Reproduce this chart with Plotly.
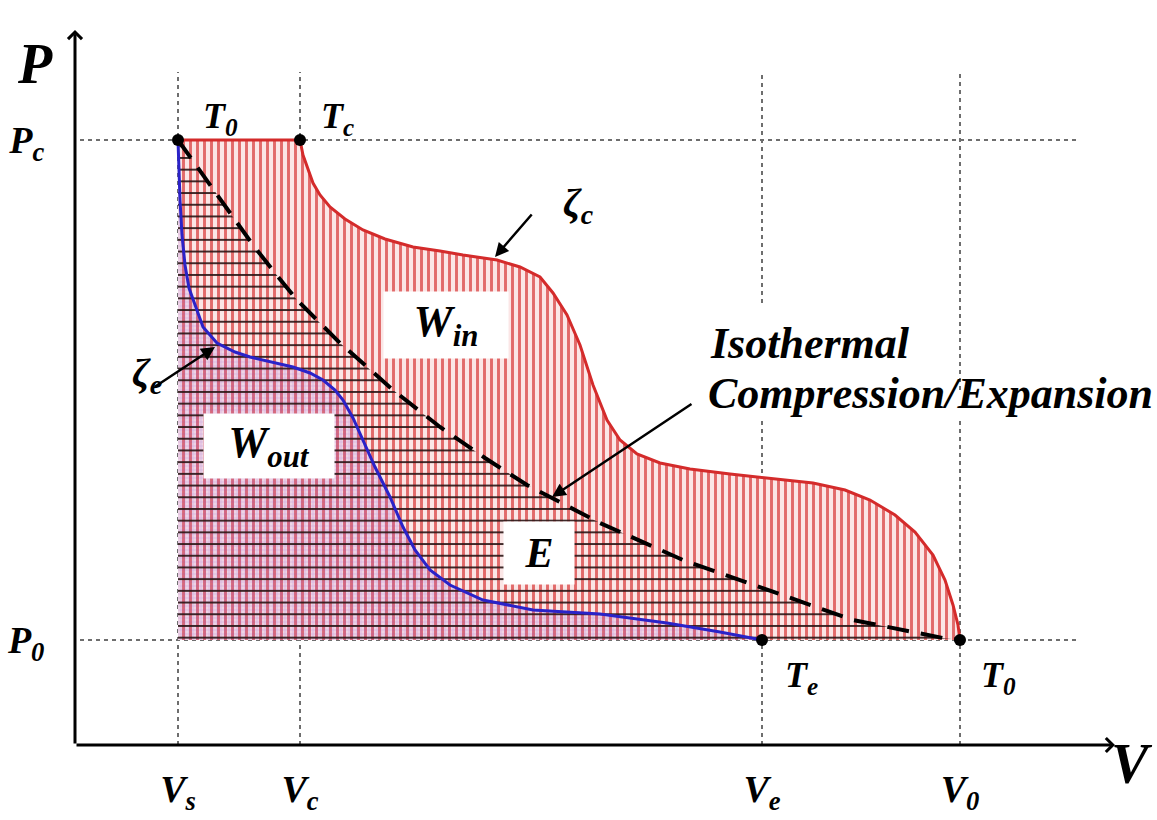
import plotly.graph_objects as go

# ---- key state values (arbitrary units) ----
V_s, V_c, V_e, V_0 = 1.03, 2.25, 6.87, 8.85
P_c, P_0 = 6.05, 1.05

# compression curve zeta_c (red): T0 -> Tc -> T0
zeta_c_V = [1.03, 2.25, 2.28, 2.33, 2.38, 2.45, 2.55, 2.70, 2.88, 3.10, 3.38, 3.65, 3.88,
            4.22, 4.45, 4.65, 4.78, 4.92, 5.05, 5.18, 5.32, 5.45, 5.62, 5.85, 6.15, 6.55,
            6.95, 7.38, 7.70, 7.95, 8.20, 8.40, 8.58, 8.70, 8.78, 8.83, 8.85]
zeta_c_P = [6.05, 6.05, 5.90, 5.75, 5.62, 5.50, 5.38, 5.26, 5.15, 5.06, 4.98, 4.94, 4.90,
            4.85, 4.78, 4.68, 4.52, 4.30, 4.00, 3.60, 3.25, 3.05, 2.91, 2.82, 2.76, 2.71,
            2.67, 2.62, 2.55, 2.45, 2.30, 2.13, 1.90, 1.65, 1.40, 1.20, 1.05]

# expansion curve zeta_e (blue): T0 -> Te
zeta_e_V = [1.03, 1.04, 1.05, 1.07, 1.10, 1.14, 1.20, 1.28, 1.42, 1.60, 1.75, 2.00, 2.18,
            2.35, 2.48, 2.60, 2.68, 2.78, 2.88, 3.00, 3.15, 3.28, 3.40, 3.55, 3.75, 4.08,
            4.58, 5.25, 5.92, 6.45, 6.87]
zeta_e_P = [6.05, 5.75, 5.45, 5.10, 4.80, 4.57, 4.40, 4.18, 4.02, 3.93, 3.88, 3.82, 3.78,
            3.72, 3.65, 3.55, 3.45, 3.27, 3.05, 2.78, 2.48, 2.18, 1.95, 1.75, 1.60, 1.45,
            1.35, 1.31, 1.22, 1.13, 1.05]

# isothermal compression / expansion (dashed)
iso_V = [1.03, 1.32, 1.55, 1.78, 2.00, 2.22, 2.65, 3.18, 3.65, 4.10, 4.52, 5.25, 6.08,
         6.85, 7.78, 8.68, 8.85]
iso_P = [6.05, 5.65, 5.32, 5.00, 4.72, 4.45, 4.02, 3.55, 3.18, 2.87, 2.60, 2.22, 1.85,
         1.58, 1.25, 1.07, 1.05]

# state points
state_V = [V_s, V_c, V_e, V_0]
state_P = [P_c, P_c, P_0, P_0]

x_tick_vals = [V_s, V_c, V_e, V_0]
x_tick_text = ["V<sub>s</sub>", "V<sub>c</sub>", "V<sub>e</sub>", "V<sub>0</sub>"]
y_tick_vals = [P_c, P_0]
y_tick_text = ["P<sub>c</sub>", "P<sub>0</sub>"]

FONT = "Liberation Serif"


def bi(s):
    return "<b><i>" + s + "</i></b>"


fig = go.Figure()

# area under compression curve: vertical red hatching
fig.add_trace(go.Scatter(
    x=zeta_c_V + [V_s], y=zeta_c_P + [P_0], fill="toself", mode="none",
    fillpattern=dict(shape="|", size=7, solidity=0.42, fgcolor="#e26a6a",
                     bgcolor="#fbe6e6", fillmode="replace"),
    hoverinfo="skip", showlegend=False))

# area under expansion curve: light purple tint
fig.add_trace(go.Scatter(
    x=zeta_e_V + [V_s], y=zeta_e_P + [P_0], fill="toself", mode="none",
    fillpattern=dict(shape="+", size=4, solidity=0.25, fgcolor="rgba(130,70,205,0.30)",
                     bgcolor="rgba(160,100,220,0.15)", fillmode="replace"),
    hoverinfo="skip", showlegend=False))

# area under isothermal: horizontal black hatching
fig.add_trace(go.Scatter(
    x=iso_V + [V_s], y=iso_P + [P_0], fill="toself", mode="none",
    fillpattern=dict(shape="-", size=11.7, solidity=0.15, fgcolor="#2a1515",
                     bgcolor="rgba(0,0,0,0)", fillmode="replace"),
    hoverinfo="skip", showlegend=False))

# curves
fig.add_trace(go.Scatter(x=zeta_c_V, y=zeta_c_P, mode="lines",
                         line=dict(color="#d42b2b", width=3),
                         hoverinfo="skip", showlegend=False))
fig.add_trace(go.Scatter(x=zeta_e_V, y=zeta_e_P, mode="lines",
                         line=dict(color="#2a22c8", width=3),
                         hoverinfo="skip", showlegend=False))
fig.add_trace(go.Scatter(x=iso_V, y=iso_P, mode="lines",
                         line=dict(color="black", width=4, dash="22px,12px"),
                         hoverinfo="skip", showlegend=False))
fig.add_trace(go.Scatter(x=state_V, y=state_P, mode="markers",
                         marker=dict(size=12, color="black"),
                         hoverinfo="skip", showlegend=False))

# dotted guide lines
guide = dict(color="#6e6e6e", width=2, dash="4px,4px")
top = 6.73
shapes = [
    dict(type="line", x0=0.05, x1=10.05, y0=P_c, y1=P_c),
    dict(type="line", x0=0.05, x1=10.05, y0=P_0, y1=P_0),
    dict(type="line", x0=V_s, x1=V_s, y0=0, y1=top),
    dict(type="line", x0=V_c, x1=V_c, y0=0, y1=top),
    dict(type="line", x0=V_e, x1=V_e, y0=4.42, y1=top),
    dict(type="line", x0=V_e, x1=V_e, y0=0, y1=3.28),
    dict(type="line", x0=V_0, x1=V_0, y0=3.55, y1=top),
    dict(type="line", x0=V_0, x1=V_0, y0=0, y1=3.28),
]
for s in shapes:
    s.update(xref="x", yref="y", line=guide, layer="below")

annotations = []

# axes with arrows
for (tx, ty) in [(0, 7.15), (10.40, 0)]:
    annotations.append(dict(x=tx, y=ty, ax=0, ay=0, xref="x", yref="y", axref="x", ayref="y",
                            text="", showarrow=True, arrowhead=4, arrowsize=0.9,
                            arrowwidth=3, arrowcolor="black"))

# pointer arrows
for (tx, ty, fx, fy) in [(4.20, 4.88, 4.58, 5.32), (1.40, 3.98, 0.78, 3.57),
                         (4.77, 2.48, 6.18, 3.42)]:
    annotations.append(dict(x=tx, y=ty, ax=fx, ay=fy, xref="x", yref="y", axref="x", ayref="y",
                            text="", showarrow=True, arrowhead=2, arrowsize=1.1,
                            arrowwidth=2.5, arrowcolor="black"))


def label(x, y, txt, size, bg=None, w=None, h=None, xanchor="center", ref="x"):
    d = dict(x=x, y=y, xref="x" if ref == "x" else "paper", yref="y" if ref == "x" else "paper",
             text=bi(txt), showarrow=False, xanchor=xanchor,
             font=dict(family=FONT, size=size, color="black"))
    if bg:
        d.update(bgcolor=bg)
    if w:
        d.update(width=w, height=h)
    annotations.append(d)


# axis titles (in the margin -> paper coordinates)
label(-0.037, 0.958, "P", 56, ref="paper")
label(0.977, -0.070, "V", 56, ref="paper")
label(1.45, 6.27, "T<sub>0</sub>", 36)
label(2.62, 6.27, "T<sub>c</sub>", 36)
label(7.26, 0.68, "T<sub>e</sub>", 36)
label(9.23, 0.68, "T<sub>0</sub>", 36)
label(5.03, 5.40, "ζ<sub>c</sub>", 40)
label(0.72, 3.70, "ζ<sub>e</sub>", 40)
label(3.71, 4.20, "W<sub>in</sub>", 44, "white", 122, 64)
label(1.94, 2.99, "W<sub>out</sub>", 44, "white", 128, 62)
label(4.64, 1.92, "E", 42, "white", 68, 60)
label(6.33, 4.02, "Isothermal", 44, xanchor="left")
label(6.31, 3.52, "Compression/Expansion", 44, xanchor="left")

tickfont = dict(family=FONT, size=38, color="black")
fig.update_layout(
    width=1157, height=820,
    margin=dict(l=75, r=0, t=0, b=75, autoexpand=False),
    plot_bgcolor="white", paper_bgcolor="white",
    shapes=shapes, annotations=annotations,
    xaxis=dict(range=[0, 10.82], showgrid=False, zeroline=False, showline=False,
               automargin=False,
               tickmode="array", tickvals=x_tick_vals, ticktext=[bi(t) for t in x_tick_text],
               ticks="outside", ticklen=10, tickcolor="rgba(0,0,0,0)", tickfont=tickfont),
    yaxis=dict(range=[0, 7.45], showgrid=False, zeroline=False, showline=False,
               automargin=False,
               tickmode="array", tickvals=y_tick_vals, ticktext=[bi(t) for t in y_tick_text],
               ticks="outside", ticklen=22, tickcolor="rgba(0,0,0,0)", tickfont=tickfont),
)

fig.write_html("out.html", config={"displayModeBar": False},
               post_script="document.body.style.margin='0';document.body.style.padding='0';")
